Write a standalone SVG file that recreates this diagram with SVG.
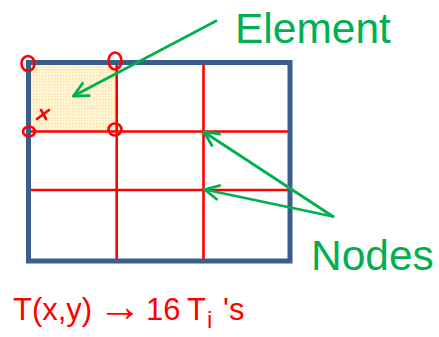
<svg xmlns="http://www.w3.org/2000/svg" width="439" height="337" viewBox="0 0 439 337">
  <style>
    .grid { stroke: #ff0000; stroke-width: 2.6; fill: none; }
    .frame { stroke: #3a5d8c; stroke-width: 5; fill: none; stroke-linejoin: miter; }
    .mark { stroke: #ff0000; stroke-width: 2.6; fill: none; }
    .ptr { stroke: #00b050; stroke-width: 2.8; fill: none; stroke-linecap: round; }
    .lbl { font-family: "Liberation Sans", Arial, sans-serif; font-size: 42.5px; fill: #00b050; }
    .hand { font-family: "Liberation Sans", Arial, sans-serif; font-size: 31px; fill: #ff0000; }
  </style>
  <defs>
    <pattern id="dots" width="3" height="3" patternUnits="userSpaceOnUse">
      <rect width="3" height="3" fill="#fff6da"/>
      <rect width="1.5" height="1.5" fill="#fde39f"/>
    </pattern>
    <marker id="open" markerUnits="userSpaceOnUse" markerWidth="20" markerHeight="20" viewBox="-16 -10 20 20" refX="0" refY="0" orient="auto">
      <path d="M-14,-7 L0,0 L-14,7" fill="none" stroke="#00b050" stroke-width="2.8" stroke-linecap="round" stroke-linejoin="round"/>
    </marker>
  </defs>

  <g id="element">
    <rect x="28.5" y="62.5" width="88" height="69" fill="url(#dots)"/>
  </g>

  <g id="grid">
    <line class="grid" x1="116.7" y1="62.5" x2="116.7" y2="261"/>
    <line class="grid" x1="203.5" y1="62.5" x2="203.5" y2="261"/>
    <line class="grid" x1="28.5" y1="131.5" x2="290" y2="131.5"/>
    <line class="grid" x1="28.5" y1="190" x2="290" y2="190"/>
  </g>

  <g id="frame">
    <rect class="frame" x="28.5" y="62.5" width="261.5" height="198.5"/>
  </g>

  <g id="node-marks">
    <ellipse class="mark" cx="28" cy="63.5" rx="6.5" ry="7.5"/>
    <ellipse class="mark" cx="115" cy="61" rx="6.5" ry="8.5"/>
    <ellipse class="mark" cx="29" cy="131.5" rx="6" ry="5"/>
    <ellipse class="mark" cx="115" cy="129.5" rx="6.5" ry="6"/>
    <path class="mark" d="M37,119 L49,110 M41,110 L46,119" stroke-linecap="round"/>
  </g>

  <g id="connectors">
    <line class="ptr" x1="216" y1="21" x2="73.5" y2="96" marker-end="url(#open)"/>
    <line class="ptr" x1="333" y1="216.5" x2="204" y2="132" marker-end="url(#open)"/>
    <line class="ptr" x1="333" y1="216.5" x2="204.5" y2="189.5" marker-end="url(#open)"/>
  </g>

  <g id="label-element">
    <text class="lbl" x="235" y="42.5">Element</text>
  </g>
  <g id="label-nodes">
    <text class="lbl" x="311" y="270">Nodes</text>
  </g>

  <g id="formula">
    <text class="hand" y="320"><tspan x="13">T(x,y)</tspan><tspan x="98" font-size="44" y="321">→</tspan><tspan x="146" y="320">16</tspan><tspan x="187">T</tspan><tspan x="207" y="328" font-size="24">i</tspan><tspan x="223" y="320">'s</tspan></text>
  </g>
</svg>
